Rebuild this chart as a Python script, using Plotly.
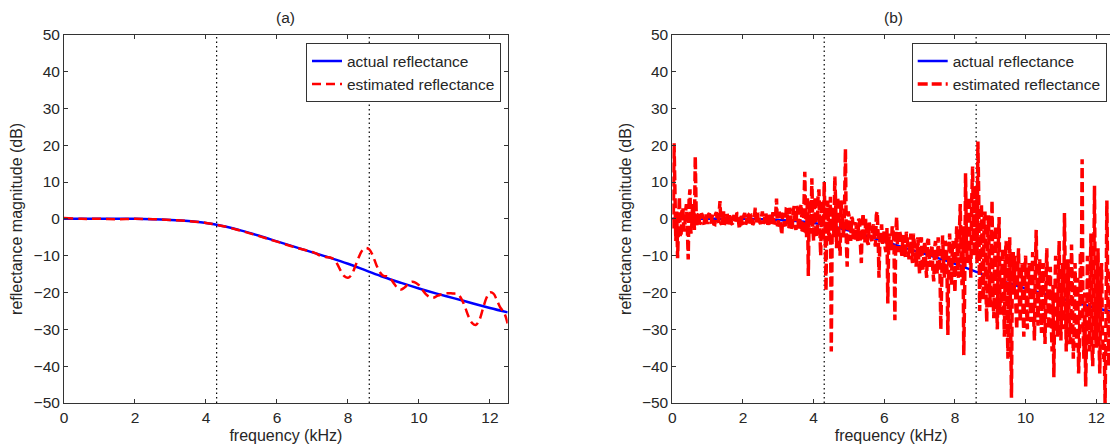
import plotly.graph_objects as go

# actual reflectance (dB), sampled every 0.5 kHz
freq_actual = [0, 0.5, 1, 1.5, 2, 2.5, 3, 3.5, 4, 4.5, 5, 5.5, 6, 6.5, 7, 7.5, 8, 8.5, 9,
               9.5, 10, 10.5, 11, 11.5, 12, 12.5]
actual = [0, 0, 0, 0, 0, -0.1, -0.3, -0.6, -1.1, -2.0, -3.2, -4.6, -6.1, -7.6, -9.1, -10.6,
          -12.2, -14.0, -15.8, -17.4, -18.9, -20.3, -21.6, -22.9, -24.2, -25.4]

# panel (a) estimate: coarse below 7 kHz, 0.1 kHz steps above
freq_est_a = [0, 0.5, 1, 1.5, 2, 2.5, 3, 3.5, 4, 4.5, 5, 5.5, 6, 6.5] + \
             [round(7 + 0.1 * i, 1) for i in range(56)]
est_a = [0.2, 0, 0, -0.1, 0, -0.1, -0.3, -0.6, -1.1, -2.0, -3.3, -4.7, -6.2, -7.7,
         # 7.0 - 7.9
         -9.0, -9.4, -9.9, -10.2, -10.4, -10.5, -11.0, -12.3, -14.2, -15.6,
         # 8.0 - 8.9
         -16.0, -15.2, -13.0, -10.5, -8.6, -7.9, -8.3, -10.0, -12.5, -14.5,
         # 9.0 - 9.9
         -15.5, -15.6, -16.3, -17.6, -18.8, -19.2, -18.6, -17.6, -17.1, -17.3,
         # 10.0 - 10.9
         -18.0, -19.3, -20.5, -21.2, -21.4, -21.0, -20.6, -20.3, -20.2, -20.2,
         # 11.0 - 11.9
         -20.3, -20.5, -21.8, -24.0, -26.6, -28.3, -28.8, -27.5, -24.5, -21.5,
         # 12.0 - 12.5
         -20.0, -20.3, -22.2, -24.2, -25.5, -28.5]

# panel (b) estimate at 0, 0.05, 0.10 ... kHz
est_b_even = [
    # 0 - 0.95
    8, 20.5, -6, -10.7, 6, -4, 3, -3, 4, -11, 8, -2, 3, 17, -2, 1.5, -1, 1, -1.5, 1.5,
    # 1 - 1.95
    -1, 1.5, -1.2, 1, -1.5, 1.8, -1, 4.8, -1.5, 2, -1, 1.5, -2, 1.2, -1.5, 1, -1.2, 1.4, -2.8, 1,
    # 2 - 2.95
    -1.2, 1.6, -1, 1.2, -1.8, 1, -1.2, 3, -1.5, 1.2, -1.4, 2, -1, 1.5, -2, 1.2, -1.5, 1.8, -1, 5.5,
    # 3 - 3.95
    -1.5, 1.5, -4.3, 1.5, -2, 2.5, -2.5, 2, -1.5, 3.5, -3, 2.5, -2.5, 4, -3.5, 12.8, -5, -15.5, 5, 11,
    # 4 - 4.95
    -6, 6, -4, 8, -10, 4, 10, -19.5, 5, -6, -36, 3, 11.5, -8, 4, -10, 2, -5, 19, -13,
    # 5 - 5.95
    1, -6, 0, -5, -1, -6, -0.5, -12, 1.5, -6.5, -2, -7, -2.5, -6, -1.5, -7.5, 2, -16, -3, -7,
    # 6 - 6.95
    -3, -9, -23, -4, -8, -3.5, -27.5, 0.5, -9, -4, -10, -4.5, -10.5, -5, -11, -4, -12, -6, -13, -5,
    # 7 - 7.95
    -15, -5, -14, -6, -16, -5.5, -13, -7, -17, -6, -15, -8, -30, -4.5, -16, -7, -31.5, -4, -18, -6,
    # 8 - 8.95
    -20, -2, -16, 4, -18, -37, 12.4, -12, 6, -16, 14.2, -10, 9, 21, -25, 4, -22, 2, -28, 1,
    # 9 - 9.95
    -24, 5, -27, -2, -30, 0.5, -26, -8, -32, -6, -38, -5, -48.6, -9, -10, -30, -8, -28, -12, -32,
    # 10 - 10.95
    -10, -30, -12, -28, -9, -33, -3, -29, -11, -31, -12, -34, -8, -30, -13, -36, -43, -10, -32, -6,
    # 11 - 11.95
    -33, -12, 1.6, -36, -11, -34, -7, -38, -12, -35, -42, -9, 16.2, -38, -45.5, -10, -36, -4, -40, 9,
    # 12 - 12.4
    -35, -8, -42, -12, -38, -50, 5, -40, -14,
]
# panel (b) estimate at 0.025, 0.075, 0.125 ... kHz
est_b_odd = [
    # 0 - 0.975
    -3, 6, 2, -2, -5, 3, -3, 2, -2, 5, -4, 4, -3, 2, 1, -1.5, 1.5, -1, 1, -1,
    # 1 - 1.975
    1.2, -0.8, 0.6, -1.4, 1.3, -0.6, 1.5, -1.2, 0.8, -1.6, 1.1, -0.5, 1.4, -1.3, 0.5, -1, 1.6, -0.7, 1.2, -1.3,
    # 2 - 2.975
    0.9, -1.5, 1.4, -0.6, 1.2, -1.6, 0.7, -1.1, 1.5, -0.9, 0.6, -1.2, 1.3, -0.8, 1.6, -1, 0.5, -1.4, 1.1, -2,
    # 3 - 3.975
    1.8, -2.2, 1.2, -1.5, 2.6, -2, 3, -2.8, 2.2, -1.8, 3.5, -3.2, 2.8, -4, 3, -2, 6, 3, -4, -2,
    # 4 - 4.975
    4, -5, 6, -3, 5, -6, -2, 3, -4, 6, -3, -5, 4, 6, -6, 5, -4, 3, -6, 2,
    # 5 - 5.975
    -3, 0.5, -6, -1.5, -5, 0, -7, -2, -4, 0, -6.5, -1, -5.5, -3, -6, 1, -4, -6, -1.5, -4,
    # 6 - 6.975
    -8, -2.5, -6, -9, -2, -7, -4, -8, -3, -8.5, -5, -9, -3.5, -8, -6, -10, -4, -9, -7, -11,
    # 7 - 7.975
    -7, -12, -8, -13, -6, -11, -9, -14, -8, -12, -5, -13, -9, -11, -6, -14, -10, -12, -8, -13,
    # 8 - 8.975
    -8, -12, -4, -10, -2, -20, -6, 2, -8, 5, -4, 8, -12, 5, -10, -14, 0, -18, -6, -15,
    # 9 - 9.975
    -10, -20, -12, -22, -8, -24, -14, -20, -10, -24, -16, -28, -12, -20, -24, -14, -22, -16, -24, -14,
    # 10 - 10.975
    -24, -16, -22, -18, -26, -14, -20, -16, -24, -14, -26, -18, -22, -16, -28, -18, -22, -24, -16, -26,
    # 11 - 11.975
    -20, -30, -18, -28, -24, -32, -20, -30, -26, -16, -34, -22, -28, -20, -32, -26, -18, -34, -22, -30,
    # 12 - 12.375
    -22, -32, -20, -30, -34, -28, -18, -32,
]
est_b = []
for i, v in enumerate(est_b_even):
    est_b.append(v)
    if i < len(est_b_odd):
        est_b.append(est_b_odd[i])
freq_b = [round(0.025 * i, 3) for i in range(len(est_b))]

# band edges marked with dotted lines (kHz)
band_edges = [4.3, 8.6]

BLUE = "rgb(0,0,255)"
RED = "rgb(255,0,0)"
FONT = "Liberation Sans, Arial, sans-serif"
TXT = "#262626"
FS = 15.5
W, H = 1110, 445

fig = go.Figure()

panels = [("x", "y", "legend", freq_est_a, est_a, "spline", 2.5, "9px,5px"),
          ("x2", "y2", "legend2", freq_b, est_b, "linear", 3.5, "10px,4px")]
for xa, ya, lg, fx, fy, shape, lw, dash in panels:
    fig.add_trace(go.Scatter(x=freq_actual, y=actual, mode="lines", name="actual reflectance",
                             line=dict(color=BLUE, width=2.5, shape="spline"),
                             xaxis=xa, yaxis=ya, legend=lg))
    fig.add_trace(go.Scatter(x=fx, y=fy, mode="lines", name="estimated reflectance",
                             line=dict(color=RED, width=lw, dash=dash, shape=shape),
                             xaxis=xa, yaxis=ya, legend=lg))
    for e in band_edges:
        fig.add_shape(type="line", xref=xa, yref=ya + " domain", x0=e, x1=e, y0=0, y1=1,
                      line=dict(color="black", width=1.2, dash="1.5px,3px"), layer="below")

axis_style = dict(showgrid=False, zeroline=False, showline=True, linecolor="#333",
                  linewidth=1, ticks="inside", ticklen=4, tickcolor="#333", automargin=False,
                  tickfont=dict(size=FS, color=TXT))

ytop = (H - 34.7) / H
ybot = (H - 403) / H
xtitle = dict(text="frequency (kHz)", standoff=5, font=dict(size=16, color=TXT))
ytitle = dict(text="reflectance magnitude (dB)", standoff=6, font=dict(size=16, color=TXT))
legend_style = dict(y=(H - 43.3) / H, yanchor="top", xanchor="right", bgcolor="white",
                    bordercolor="#333", borderwidth=1, tracegroupgap=0,
                    font=dict(size=FS, color=TXT))

fig.update_layout(
    width=W, height=H, margin=dict(l=0, r=0, t=0, b=0, autoexpand=False),
    paper_bgcolor="white", plot_bgcolor="white",
    font=dict(family=FONT, size=FS, color=TXT),
    xaxis=dict(domain=[64 / W, 507.7 / W], range=[0, 12.5], tickvals=[0, 2, 4, 6, 8, 10, 12],
               mirror="ticks", title=xtitle, anchor="y", **axis_style),
    yaxis=dict(domain=[ybot, ytop], range=[-50, 50], dtick=10, mirror="ticks",
               title=ytitle, anchor="x", **axis_style),
    xaxis2=dict(domain=[672.3 / W, 1.0], range=[0, (W - 672.3) / 35.33],
                tickvals=[0, 2, 4, 6, 8, 10, 12], mirror="ticks", title=xtitle, anchor="y2",
                **axis_style),
    yaxis2=dict(domain=[ybot, ytop], range=[-50, 50], dtick=10, mirror=False,
                title=ytitle, anchor="x2", **axis_style),
    legend=dict(x=501 / W, **legend_style),
    legend2=dict(x=1106.7 / W, **legend_style),
    annotations=[
        dict(text="(a)", x=(64 + 507.7) / 2 / W, y=(H - 17) / H, xref="paper", yref="paper",
             xanchor="center", yanchor="middle", showarrow=False,
             font=dict(size=FS, color=TXT)),
        dict(text="(b)", x=(672.3 + 1113.8) / 2 / W, y=(H - 17) / H, xref="paper",
             yref="paper", xanchor="center", yanchor="middle", showarrow=False,
             font=dict(size=FS, color=TXT)),
    ],
)

fig.write_html("out.html", config={"displayModeBar": False},
               post_script="document.body.style.margin='0px';")
